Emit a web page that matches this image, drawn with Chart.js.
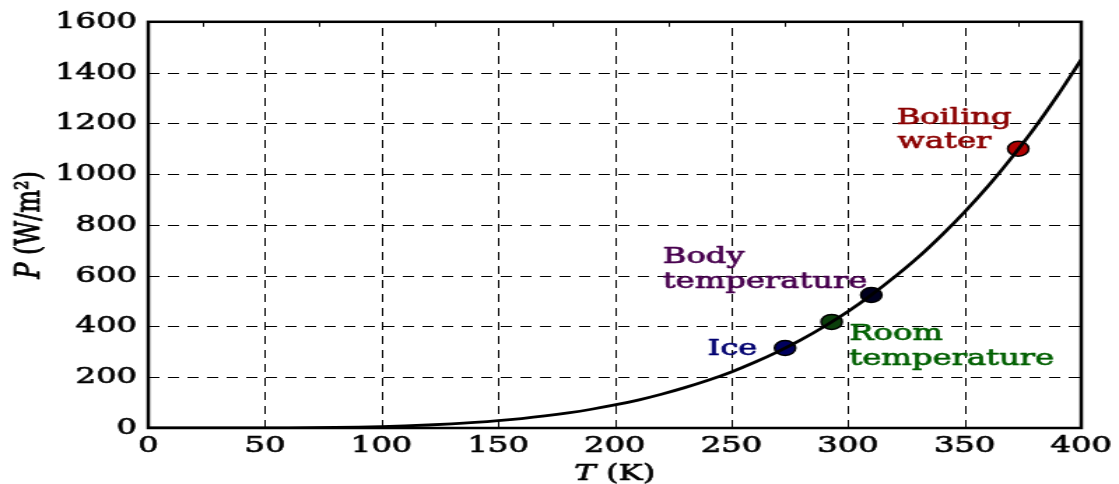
<!DOCTYPE html>
<html><head><meta charset="utf-8">
<script src="https://cdn.jsdelivr.net/npm/chart.js@4.4.0/dist/chart.umd.min.js"></script>
<style>
html,body{margin:0;padding:0;background:#fff;overflow:hidden;width:1119px;height:484px;}
#wrap{width:800px;height:484px;transform:scaleX(1.39875);transform-origin:0 0;}
canvas{display:block;}
</style></head><body>
<div id="wrap"><canvas id="c" width="800" height="484"></canvas></div>
<script>
// ---- data ----
const temperatureK = [0,10,20,30,40,50,60,70,80,90,100,110,120,130,140,150,160,170,180,190,200,
  210,220,230,240,250,260,270,280,290,300,310,320,330,340,350,360,370,380,390,400];
const powerWm2 = [0,0,0.01,0.05,0.15,0.35,0.73,1.36,2.32,3.72,5.67,8.3,11.8,16.2,21.8,28.7,37.2,47.4,59.5,73.9,90.7,
  110,133,159,188,221,259,301,348,401,459,524,595,672,758,851,952,1063,1182,1312,1451];
const xTickValues = [0,50,100,150,200,250,300,350,400];
const yTickValues = [0,200,400,600,800,1000,1200,1400,1600];
const topTickCelsius = [-250,-200,-150,-100,-50,0,50,100];
const landmarkNames = ['Ice','Room temperature','Body temperature','Boiling water'];
const landmarkT = [273,293,310,373];
const landmarkP = [315,418,524,1100];
const landmarkFill = ['#00005e','#0b3f0b','#00001e','#b00000'];

// label placement (data coordinates) and colours
const annotations = [
  {lines:['Ice'], t:[239.8], p:[287], color:'#000070'},
  {lines:['Room','temperature'], t:[300.6,300.6], p:[346,248], color:'#006000'},
  {lines:['Body','temperature'], t:[220.6,220.6], p:[649,550], color:'#48004f'},
  {lines:['Boiling','water'], t:[320.8,321.2], p:[1199,1101], color:'#8b0000'}
];

const SERIF = '"DejaVu Serif", serif';
const TEXT_STROKE = 0.7;

const decor = {
  id:'decor',
  beforeDatasetsDraw(chart){
    const {ctx, chartArea:a, scales:{x,y}} = chart;
    ctx.save();
    ctx.strokeStyle='#000'; ctx.lineWidth=1; ctx.setLineDash([8,6]);
    xTickValues.forEach(v=>{
      if(v<=x.min||v>=x.max) return;
      const px=Math.round(x.getPixelForValue(v))+0.5;
      ctx.beginPath(); ctx.moveTo(px,a.bottom); ctx.lineTo(px,a.top); ctx.stroke();
    });
    yTickValues.forEach(v=>{
      if(v<=y.min||v>=y.max) return;
      const py=Math.round(y.getPixelForValue(v))+0.5;
      ctx.beginPath(); ctx.moveTo(a.left,py); ctx.lineTo(a.right,py); ctx.stroke();
    });
    ctx.setLineDash([]);
    ctx.font='23px '+SERIF; ctx.textAlign='left'; ctx.textBaseline='alphabetic';
    ctx.lineWidth=TEXT_STROKE; ctx.lineJoin='round';
    annotations.forEach(an=>{
      ctx.fillStyle=an.color; ctx.strokeStyle=an.color;
      an.lines.forEach((ln,i)=>{
        const px=x.getPixelForValue(an.t[i]), py=y.getPixelForValue(an.p[i]);
        ctx.fillText(ln,px,py); ctx.strokeText(ln,px,py);
      });
    });
    ctx.restore();
  },
  afterDraw(chart){
    const {ctx, chartArea:a, scales:{x,y}} = chart;
    ctx.save();
    ctx.strokeStyle='#000'; ctx.lineWidth=1;
    xTickValues.forEach(v=>{
      const px=Math.round(x.getPixelForValue(v))+0.5;
      ctx.beginPath(); ctx.moveTo(px,a.bottom); ctx.lineTo(px,a.bottom-8); ctx.stroke();
    });
    topTickCelsius.forEach(c=>{
      const px=Math.round(x.getPixelForValue(c+273.15))+0.5;
      ctx.beginPath(); ctx.moveTo(px,a.top); ctx.lineTo(px,a.top+5); ctx.stroke();
    });
    yTickValues.forEach(v=>{
      const py=Math.round(y.getPixelForValue(v))+0.5;
      ctx.beginPath(); ctx.moveTo(a.left,py); ctx.lineTo(a.left+7,py); ctx.stroke();
      ctx.beginPath(); ctx.moveTo(a.right,py); ctx.lineTo(a.right-7,py); ctx.stroke();
    });
    ctx.lineWidth=2.5;
    ctx.strokeRect(a.left,a.top,a.right-a.left,a.bottom-a.top);
    // axis titles
    ctx.fillStyle='#000'; ctx.textBaseline='alphabetic'; ctx.textAlign='left';
    ctx.lineWidth=TEXT_STROKE; ctx.lineJoin='round';
    const put=(t,px)=>{ctx.fillText(t,px,0); ctx.strokeText(t,px,0);};
    const drawTitle=(italic,rest,size)=>{
      ctx.font='italic '+size+'px '+SERIF; const w1=ctx.measureText(italic).width;
      ctx.font=size+'px '+SERIF; const w2=ctx.measureText(rest).width;
      const start=-(w1+w2)/2;
      ctx.font='italic '+size+'px '+SERIF; put(italic,start);
      ctx.font=size+'px '+SERIF; put(rest,start+w1);
    };
    ctx.save();
    ctx.translate((a.left+a.right)/2, 480);
    drawTitle('T',' (K)',23);
    ctx.restore();
    ctx.save();
    ctx.translate(27.5,(a.top+a.bottom)/2);
    ctx.rotate(-Math.PI/2);
    drawTitle('P',' (W/m\u00B2)',24);
    ctx.restore();
    ctx.restore();
  }
};

const tickFont={family:SERIF,size:23};
new Chart(document.getElementById('c'),{
  type:'scatter',
  data:{datasets:[
    {label:'P = \u03C3T\u2074', data:temperatureK.map((t,i)=>({x:t,y:powerWm2[i]})), showLine:true,
     borderColor:'#000', borderWidth:2.8, pointRadius:0, cubicInterpolationMode:'monotone', fill:false},
    {label:'Landmarks', data:landmarkT.map((t,i)=>({x:t,y:landmarkP[i],name:landmarkNames[i]})),
     pointRadius:7.5, pointBackgroundColor:landmarkFill, pointBorderColor:'#000', pointBorderWidth:1.5, showLine:false}
  ]},
  options:{
    responsive:false, animation:false, devicePixelRatio:1, events:[],
    layout:{padding:{top:21,right:27,left:0,bottom:0}},
    plugins:{legend:{display:false},tooltip:{enabled:false}},
    scales:{
      x:{type:'linear',min:0,max:400,
         ticks:{stepSize:50,font:tickFont,color:'#000',padding:4,maxRotation:0,
                textStrokeColor:'#000',textStrokeWidth:TEXT_STROKE,callback:v=>String(v)},
         grid:{display:false,drawTicks:false},border:{display:false},
         afterFit(s){s.height=56;}},
      y:{type:'linear',min:0,max:1600,
         ticks:{stepSize:200,font:tickFont,color:'#000',padding:8,
                textStrokeColor:'#000',textStrokeWidth:TEXT_STROKE,callback:v=>String(v)},
         grid:{display:false,drawTicks:false},border:{display:false},
         afterFit(s){s.width=106;}}
    }
  },
  plugins:[decor]
});
</script>
</body></html>
